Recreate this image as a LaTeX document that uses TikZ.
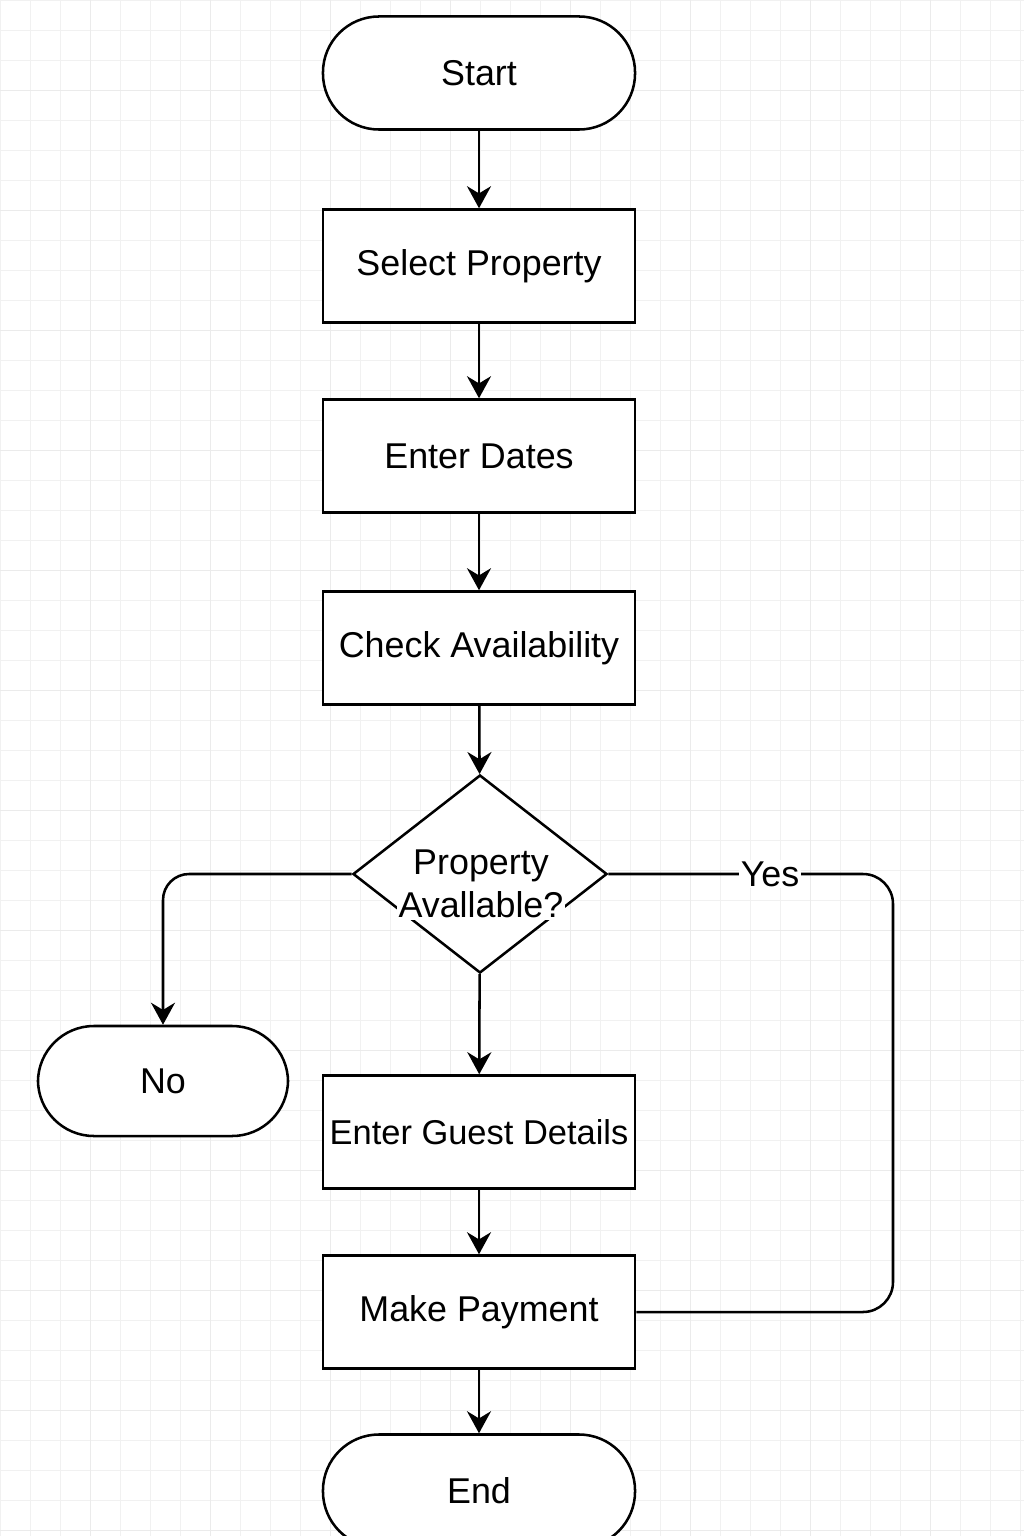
\documentclass[tikz,border=0pt]{standalone}
\usepackage{fontspec}
\setmainfont{Liberation Sans}
\usepackage{tikz}
\usetikzlibrary{arrows, arrows.meta, positioning, shapes.geometric, shapes.misc, calc}

\tikzset{
  gridminor/.style={line width=0.6pt, color=gray!11},
  gridmajor/.style={line width=0.7pt, color=gray!16},
  stepbox/.style={draw, line width=1.8pt, fill=white, inner xsep=1pt,
    minimum width=7.8cm, minimum height=2.825cm, font=\fontsize{25.5}{30}\selectfont},
  terminal/.style={stepbox, rounded corners=1.4cm},
  decision/.style={draw, diamond, line width=1.8pt, fill=white, inner sep=0pt,
    minimum width=6.35cm, minimum height=4.95cm},
  flow/.style={line width=1.8pt, -{Stealth[length=5.5mm, width=6mm, inset=1.8mm]}},
  link/.style={line width=1.8pt, rounded corners=0.75cm}
}

\begin{document}
\begin{tikzpicture}[x=0.025cm, y=-0.025cm]
  \useasboundingbox (0,0) rectangle (1024,1536);
  \clip (0,0) rectangle (1024,1536);
  \fill [white] (0,0) rectangle (1024,1536);

  % background grid
  \foreach \x in {0,30,...,1020} \draw [gridminor] (\x,0) -- (\x,1536);
  \foreach \y in {0,30,...,1530} \draw [gridminor] (0,\y) -- (1024,\y);
  \foreach \x in {90,210,...,1010} \draw [gridmajor] (\x,0) -- (\x,1536);
  \foreach \y in {90,210,...,1530} \draw [gridmajor] (0,\y) -- (1024,\y);

  \node [terminal] (start) at (479,73) {Start};
  \node [stepbox] (select) at (479,266) {Select Property};
  \node [stepbox] (dates) at (479,456) {Enter Dates};
  \node [stepbox] (check) at (479,648) {Check Availability};
  \node [decision] (avail) at (480,874) {};
  \node [fill=white, inner sep=1pt, align=center, font=\fontsize{25.5}{31}\selectfont] (availtext) at (481,884) {Property\\Avallable?};
  \node [terminal, minimum width=6.25cm, minimum height=2.75cm] (no) at (163,1081) {No};
  \node [stepbox, font=\fontsize{24.5}{30}\selectfont] (guest) at (479,1132) {Enter Guest Details};
  \node [stepbox] (pay) at (479,1312) {Make Payment};
  \node [terminal] (end) at (479,1491) {End};

  \draw [flow] (start) -- (select);
  \draw [flow] (select) -- (dates);
  \draw [flow] (dates) -- (check);
  \draw [flow] (check) -- (avail);
  \draw [flow] (avail) -- (guest);
  \draw [flow] (guest) -- (pay);
  \draw [flow] (pay) -- (end);
  \draw [flow, rounded corners=0.65cm] (avail.west) -| (no.north);
  \draw [link] (avail.east) -- (893,874) |- (pay.east);
  \node [fill=white, inner sep=1pt, font=\fontsize{25.5}{30}\selectfont] (yes) at (770,874) {Yes};

\end{tikzpicture}
\end{document}
